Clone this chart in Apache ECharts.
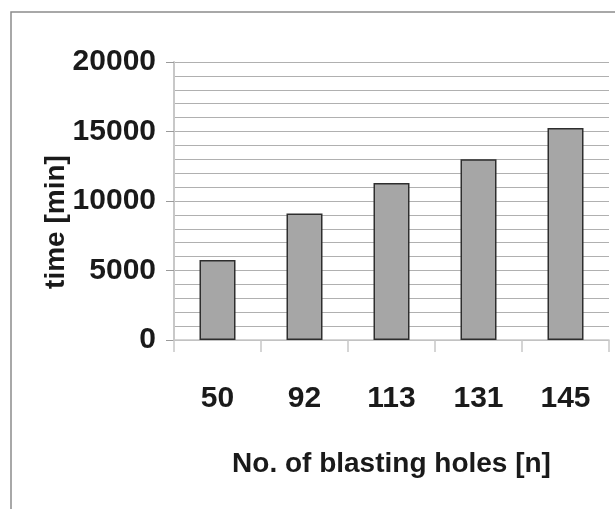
<!DOCTYPE html>
<html>
<head>
<meta charset="utf-8">
<script src="https://cdn.jsdelivr.net/npm/echarts@6/dist/echarts.min.js"></script>
<style>
html,body{margin:0;padding:0;background:#fff;}
#c{width:615px;height:509px;}
</style>
</head>
<body>
<div id="c"></div>
<script>
const categories = ['50', '92', '113', '131', '145'];
const timeValues = [5750, 9100, 11300, 13000, 15250];
const yTicks = [0, 5000, 10000, 15000, 20000];

const FONT = '"Liberation Sans Narrow", "Arial Narrow", "Liberation Sans", Arial, sans-serif';

const chart = echarts.init(document.getElementById('c'), null, {renderer: 'canvas'});
chart.setOption({
  animation: false,
  backgroundColor: '#ffffff',
  graphic: [{
    type: 'rect',
    shape: {x: 11, y: 12, width: 640, height: 540},
    style: {fill: 'none', stroke: '#8c8c8c', lineWidth: 1.5},
    silent: true
  }],
  grid: {left: 174, right: 6, top: 62, bottom: 169, containLabel: false},
  xAxis: {
    type: 'category',
    data: categories,
    axisLine: {show: true, lineStyle: {color: '#c8c8c8', width: 1.5}},
    axisTick: {show: true, alignWithLabel: false, length: 12, lineStyle: {color: '#c8c8c8', width: 1.5}},
    axisLabel: {
      margin: 44,
      fontFamily: FONT, fontWeight: 'bold', fontSize: 30, color: '#1a1a1a'
    },
    name: 'No. of blasting holes [n]',
    nameLocation: 'middle',
    nameGap: 110,
    nameMoveOverlap: false,
    nameTextStyle: {fontFamily: FONT, fontWeight: 'bold', fontSize: 28, color: '#1a1a1a'}
  },
  yAxis: {
    type: 'value',
    min: yTicks[0],
    max: yTicks[yTicks.length - 1],
    interval: 5000,
    axisLine: {show: true, lineStyle: {color: '#c8c8c8', width: 2}},
    axisTick: {show: true, inside: false, length: 8, lineStyle: {color: '#9a9a9a', width: 1}},
    axisLabel: {
      margin: 18,
      fontFamily: FONT, fontWeight: 'bold', fontSize: 30, color: '#1a1a1a',
      formatter: v => yTicks.includes(v) ? String(v) : ''
    },
    splitLine: {show: true, lineStyle: {color: '#b0b0b0', width: 1}},
    minorTick: {show: false, splitNumber: 5},
    minorSplitLine: {show: true, lineStyle: {color: '#b0b0b0', width: 1}},
    name: 'time [min]',
    nameLocation: 'middle',
    nameRotate: 90,
    nameGap: 104,
    nameMoveOverlap: false,
    nameTextStyle: {fontFamily: FONT, fontWeight: 'bold', fontSize: 28, color: '#1a1a1a', padding: [0, 42, 0, 0]}
  },
  series: [{
    type: 'bar',
    data: timeValues,
    barWidth: 36,
    itemStyle: {color: '#a6a6a6', borderColor: '#2e2e2e', borderWidth: 1.5},
    silent: true
  }]
});
</script>
</body>
</html>
